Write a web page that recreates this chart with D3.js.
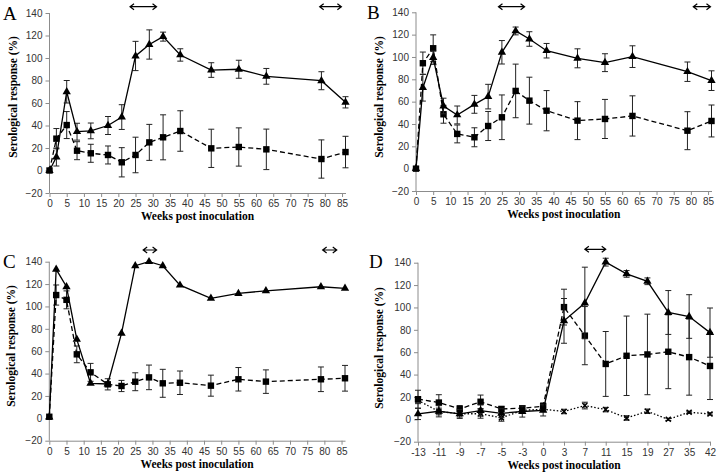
<!DOCTYPE html>
<html><head><meta charset="utf-8">
<script src="https://cdn.jsdelivr.net/npm/d3@7"></script>
<style>body{margin:0;background:#fff}svg{display:block}</style>
</head><body>
<script>
// ---------- data ----------
const weeks = [0,2,5,8,12,17,21,25,29,33,38,47,55,63,79,86];
const xTicksABC = [0,5,10,15,20,25,30,35,40,45,50,55,60,65,70,75,80,85];
const yTicks = [-20,0,20,40,60,80,100,120,140];

const A_tri     = [0,12,70,34.5,35.2,40,47.5,101.8,112,119,102.7,89.3,90,83.7,79.8,60.6];
const A_tri_err = [0,8,10,7.5,7,8,11,13,13,4,5.5,6.5,8,7,8,5];
const A_sq      = [0,28.3,40.4,17.6,15.3,13.8,7.3,13.8,25,29.5,35.1,19.7,20.9,18.8,10.2,16.4];
const A_sq_err  = [0,9,12,8,8,8,13,15.8,16,20,18,17,17,18,17,14];
const A_arrows  = [[23.4,31.1],[78.5,84.8]];

const B_tri     = [0,72.5,99.4,56.1,48.1,57.6,64.5,104.2,123.3,116.1,105.6,98.8,94.9,100.3,86.8,78.8];
const B_tri_err = [0,12,6,7,8,8,11,10.5,3.5,6.5,6.5,8.5,8,9.7,8.7,8.8];
const B_sq      = [0,94.4,107.8,48.7,31.1,28.1,38.2,46,69.6,60.9,51.9,43,44.5,47.2,34,42.7];
const B_sq_err  = [0,10,12,8,8,8.5,13,20,24,21,18,17,17.5,18,17,14.3];
const B_arrows  = [[24,31.6],[80.7,85.7]];

const C_tri     = [1,133.2,117.6,70.6,31.3,30.7,76,136.4,140,136.4,119,107.2,111.6,114,117.6,116.2];
const C_tri_err = [0,0,0,0,0,0,0,0,0,0,0,0,0,0,0,0];
const C_sq      = [1.4,110.2,105.9,57.2,41.1,30.4,28.9,32.7,36.6,31.3,31.8,29.2,34.9,32.8,34.9,35.8];
const C_sq_err  = [0,9,8,7.5,8,5,5,8,11,12.5,10.5,9.4,10.5,10.5,11,11.5];
const C_arrows  = [[27.3,31.2],[79.5,83.6]];

const D_cats    = [-13,-11,-9,-7,-5,-3,0,3,7,11,15,19,27,35,42];
const D_tri     = [4.8,7.2,4.8,7.8,5.4,7,8,88,104,140.5,130,123.4,95.5,91.9,77.5];
const D_tri_err = [5,5,4,5,4,5,5,20,32,3.5,3,3,19.6,19.5,22];
const D_sq      = [18,15,9.3,15.7,9.3,9.9,11.7,100.3,74.8,49.5,56.8,58,60.4,55.6,47.7];
const D_sq_err  = [8,7,3,6,2,2,3,16,26,29,35.5,36,33,34,30];
const D_x       = [17,7,5,5,1.3,8,9,7,12.3,8.7,1.2,7.2,0,6.3,4.8];
const D_x_err   = [3,3,3,4,3,2,2,2,3,2,2,2,1,1,1];
const D_arrows  = [[7,11]];

// ---------- drawing ----------
const W = 718, H = 475;
const svg = d3.select("body").append("svg").attr("width", W).attr("height", H);

const tickFont = "'Liberation Sans', Arial, sans-serif";
const titleFont = "'Liberation Serif', 'Times New Roman', serif";

function panel(o) {
  const g = svg.append("g");
  const x = o.x, y = o.y;
  const x0 = x.range()[0], x1 = x.range()[1];
  const yb = y(-20);
  // y axis
  g.append("line").attr("x1", x0).attr("x2", x0).attr("y1", y(140)).attr("y2", yb)
    .attr("stroke", "#8c8c8c").attr("stroke-width", 1);
  const yAxis = d3.axisLeft(y).tickValues(yTicks).tickSize(4).tickPadding(3);
  const ya = g.append("g").attr("transform", `translate(${x0},0)`).call(yAxis);
  ya.select(".domain").remove();
  ya.selectAll("line").attr("stroke", "#8c8c8c");
  ya.selectAll("text").attr("font-family", tickFont).attr("font-size", 10).attr("fill", "#333");
  // x axis
  const xAxis = (o.band ? d3.axisBottom(x) : d3.axisBottom(x).tickValues(xTicksABC)).tickSize(4).tickPadding(3).tickSizeOuter(0);
  const xa = g.append("g").attr("transform", `translate(0,${yb})`).call(xAxis);
  xa.select(".domain").attr("stroke", "#8c8c8c");
  xa.selectAll("line").attr("stroke", "#8c8c8c");
  xa.selectAll("text").attr("font-family", tickFont).attr("font-size", 10).attr("fill", "#333");
  // titles
  g.append("text").attr("x", (x0 + x1) / 2).attr("y", yb + 27)
    .attr("text-anchor", "middle").attr("font-family", titleFont).attr("font-weight", "bold")
    .attr("font-size", 11.5).text("Weeks post inoculation");
  g.append("text").attr("transform", `translate(${o.ytx},${o.yty}) rotate(-90)`)
    .attr("text-anchor", "middle").attr("font-family", titleFont).attr("font-weight", "bold")
    .attr("font-size", 11.5).text("Serological response (%)");
  g.append("text").attr("x", o.lx).attr("y", o.ly).attr("font-family", titleFont)
    .attr("font-size", 19).text(o.label);

  // series
  o.series.forEach(s => {
    const pts = o.xs.map((xv, i) => ({ x: x(xv), y: y(s.v[i]), e: s.e[i], v: s.v[i] }));
    // error bars
    const eb = g.append("g").attr("stroke", "#222").attr("stroke-width", 1);
    pts.forEach(p => {
      if (!p.e) return;
      const t = y(p.v + p.e), b = y(p.v - p.e);
      eb.append("line").attr("x1", p.x).attr("x2", p.x).attr("y1", t).attr("y2", b);
      eb.append("line").attr("x1", p.x - 3).attr("x2", p.x + 3).attr("y1", t).attr("y2", t);
      eb.append("line").attr("x1", p.x - 3).attr("x2", p.x + 3).attr("y1", b).attr("y2", b);
    });
    g.append("path").attr("d", d3.line().x(p => p.x).y(p => p.y)(pts))
      .attr("fill", "none").attr("stroke", "#000").attr("stroke-width", 1.3)
      .attr("stroke-dasharray", s.dash || null);
    pts.forEach(p => {
      if (s.m === "tri") {
        g.append("path").attr("d", d3.symbol(d3.symbolTriangle, 30)())
          .attr("transform", `translate(${p.x},${p.y})`).attr("fill", "#000");
      } else if (s.m === "sq") {
        g.append("rect").attr("x", p.x - 3.2).attr("y", p.y - 3.2).attr("width", 6.4).attr("height", 6.4).attr("fill", "#000");
      } else {
        g.append("path").attr("d", `M${p.x-2.5},${p.y-2.5}L${p.x+2.5},${p.y+2.5}M${p.x-2.5},${p.y+2.5}L${p.x+2.5},${p.y-2.5}`)
          .attr("stroke", "#000").attr("stroke-width", 1.5);
      }
    });
  });
  // arrows
  o.arrows.forEach(a => {
    const ax0 = x(a[0]), ax1 = x(a[1]), ay = o.ay;
    g.append("path").attr("d",
      `M${ax0},${ay}L${ax1},${ay}M${ax0+4},${ay-3}L${ax0},${ay}L${ax0+4},${ay+3}M${ax1-4},${ay-3}L${ax1},${ay}L${ax1-4},${ay+3}`)
      .attr("fill", "none").attr("stroke", "#000").attr("stroke-width", 1.2);
  });
}

panel({
  label: "A", lx: 3, ly: 20,
  x: d3.scaleLinear([0, 86], [49.5, 345.5]), y: d3.scaleLinear([-20, 140], [193, 13]),
  xs: weeks, ytx: 16.5, yty: 97, ay: 6.7, arrows: A_arrows,
  series: [{ v: A_sq, e: A_sq_err, m: "sq", dash: "5,3" }, { v: A_tri, e: A_tri_err, m: "tri" }]
});
panel({
  label: "B", lx: 367, ly: 19,
  x: d3.scaleLinear([0, 86], [416, 711.5]), y: d3.scaleLinear([-20, 140], [191, 12.3]),
  xs: weeks, ytx: 383, yty: 97, ay: 6.7, arrows: B_arrows,
  series: [{ v: B_sq, e: B_sq_err, m: "sq", dash: "5,3" }, { v: B_tri, e: B_tri_err, m: "tri" }]
});
panel({
  label: "C", lx: 3, ly: 268,
  x: d3.scaleLinear([0, 86], [49.3, 345]), y: d3.scaleLinear([-20, 140], [440.7, 261.7]),
  xs: weeks, ytx: 15, yty: 346, ay: 250, arrows: C_arrows,
  series: [{ v: C_sq, e: C_sq_err, m: "sq", dash: "5,3" }, { v: C_tri, e: C_tri_err, m: "tri" }]
});
panel({
  label: "D", lx: 369, ly: 268, band: true,
  x: d3.scalePoint(D_cats, [418, 710]), y: d3.scaleLinear([-20, 140], [441.7, 262.7]),
  xs: D_cats, ytx: 383, yty: 348, ay: 249.3, arrows: D_arrows,
  series: [{ v: D_x, e: D_x_err, m: "x", dash: "1.5,2" }, { v: D_sq, e: D_sq_err, m: "sq", dash: "5,3" }, { v: D_tri, e: D_tri_err, m: "tri" }]
});
</script>
</body></html>
